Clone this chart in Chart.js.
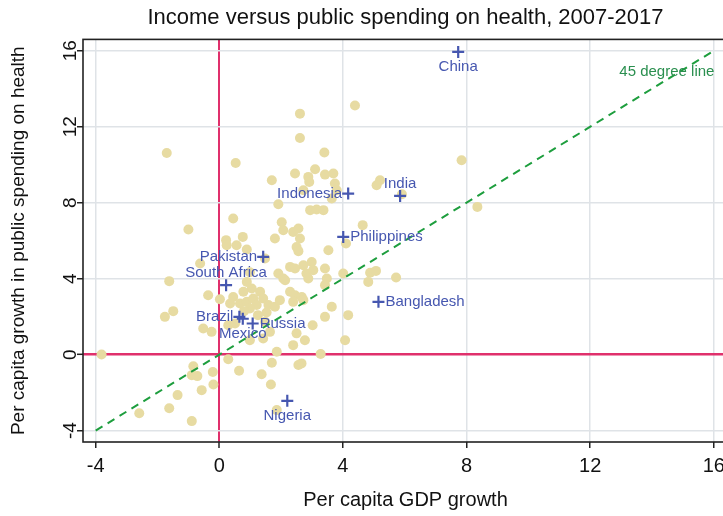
<!DOCTYPE html>
<html>
<head>
<meta charset="utf-8">
<script src="https://cdn.jsdelivr.net/npm/chart.js@4.4.1/dist/chart.umd.min.js"></script>
<style>
  html, body { margin: 0; padding: 0; background: #fff; overflow: hidden; }
  #wrap { width: 810px; height: 516px; }
</style>
</head>
<body>
<div id="wrap"><canvas id="chart" width="810" height="516"></canvas></div>
<script>
// countries picked out with a cross and a name
const countries = ['China', 'India', 'Indonesia', 'Philippines', 'Bangladesh', 'Pakistan',
                   'South Africa', 'Brazil', 'Russia', 'Mexico', 'Nigeria'];
const countryGdp    = [7.73, 5.85, 4.17, 4.01, 5.15, 1.42, 0.22, 0.65, 1.08, 0.76, 2.20];
const countryHealth = [15.94, 8.36, 8.48, 6.20, 2.78, 5.15, 3.66, 1.99, 1.64, 1.89, -2.43];

// all the other countries
const otherGdp = [
  -1.70, 0.53, 1.70, 2.61, 2.61, 4.39, 3.40, 7.84, 8.35, 2.45,
  3.10, 3.42, 3.69, 2.88, 2.91, 3.74, 3.80, 2.72, 3.64, 5.20,
  5.09, 2.94, 3.15, 3.37, 1.91, 2.02, 2.07, 2.56, 2.61, 2.50,
  2.56, 4.64, 4.10, 3.53, 0.45, -1.00, 0.22, 0.24, 0.56, 0.76,
  0.89, 1.80, 2.39, 1.48, -0.62, -1.62, 1.91, 2.07, 2.29, 2.45,
  2.72, 2.99, 3.04, 2.82, 3.42, 3.48, 3.42, 4.01, 4.88, 5.07,
  4.82, 5.72, 2.13, 2.88, 0.89, 1.05, 0.78, 1.32, -0.36, 0.02,
  0.45, 0.35, 0.67, 0.89, 1.10, 1.21, 0.99, 1.42, 1.59, 1.53,
  1.80, 1.96, 2.29, 2.45, 2.67, 2.72, 2.39, 3.64, 3.42, 4.17,
  3.02, 2.50, 2.77, 2.39, 4.07, 3.28, 2.66, -1.49, -1.76, -0.52,
  -0.25, 0.29, 0.51, 1.48, 1.64, 1.42, 0.99, 1.86, -3.81, 0.29,
  0.64, 1.37, 1.70, 1.67, 1.86, 2.56, -2.59, -1.62, -1.35, -0.89,
  -0.84, -0.89, -0.71, -0.57, -0.21, -0.19, 1.25, 0.80, 0.99, 5.91
];
const otherHealth = [
  10.62, 10.09, 9.18, 12.69, 11.41, 13.12, 10.64, 10.24, 7.78, 9.54,
  9.76, 9.48, 9.54, 9.36, 9.09, 9.01, 8.66, 8.66, 8.22, 9.18,
  8.92, 7.61, 7.64, 7.61, 7.92, 6.97, 6.55, 6.64, 6.12, 5.67,
  5.45, 6.82, 5.85, 5.50, 7.17, 6.59, 6.03, 5.76, 5.76, 6.20,
  5.54, 6.12, 6.46, 5.06, 4.80, 3.87, 4.27, 4.01, 4.62, 4.54,
  4.71, 4.88, 4.45, 4.27, 4.54, 4.01, 3.66, 4.27, 4.31, 4.41,
  3.83, 4.06, 3.92, 4.01, 3.83, 3.48, 3.31, 3.31, 3.13, 2.92,
  3.04, 2.69, 2.69, 2.78, 2.96, 2.61, 2.43, 2.96, 2.61, 2.22,
  2.52, 2.87, 3.31, 3.13, 3.04, 2.87, 2.78, 2.52, 1.99, 2.08,
  1.55, 1.12, 0.76, 0.50, 0.76, 0.03, -0.46, 2.29, 1.99, 1.38,
  1.20, 1.55, 1.64, 1.73, 1.20, 0.85, 0.76, 0.15, 0.01, -0.24,
  -0.85, -1.03, -0.43, -1.57, -2.92, -0.55, -3.09, -2.82, -2.13, -3.50,
  -0.61, -1.08, -1.13, -1.87, -0.91, -1.57, 2.08, 2.29, 4.34, 8.45
];

const xTicks = [-4, 0, 4, 8, 12, 16];
const yTicks = [-4, 0, 4, 8, 12, 16];
const diagonal = [-4, 16];

// where each name sits next to its cross
const labelSide = {
  'China': 'below', 'India': 'above', 'Indonesia': 'left', 'Philippines': 'right',
  'Bangladesh': 'right', 'Pakistan': 'left', 'South Africa': 'above', 'Brazil': 'left',
  'Russia': 'right', 'Mexico': 'below', 'Nigeria': 'below'
};

const FONT = "'Liberation Sans', Arial, sans-serif";
const BLUE = '#4657b0';

const countryLabels = {
  id: 'countryLabels',
  afterDatasetsDraw(chart) {
    const ctx = chart.ctx, xs = chart.scales.x, ys = chart.scales.y;
    ctx.save();
    ctx.font = '15px ' + FONT;
    ctx.fillStyle = BLUE;
    ctx.textBaseline = 'middle';
    countries.forEach((name, i) => {
      const px = xs.getPixelForValue(countryGdp[i]);
      const py = ys.getPixelForValue(countryHealth[i]);
      const side = labelSide[name];
      if (side === 'left') { ctx.textAlign = 'right'; ctx.fillText(name, px - 6, py); }
      else if (side === 'right') { ctx.textAlign = 'left'; ctx.fillText(name, px + 7, py); }
      else if (side === 'above') { ctx.textAlign = 'center'; ctx.fillText(name, px, py - 12); }
      else { ctx.textAlign = 'center'; ctx.fillText(name, px, py + 15); }
    });
    // label of the diagonal
    ctx.fillStyle = '#2a8f4f';
    ctx.textAlign = 'right';
    ctx.fillText('45 degree line', xs.getPixelForValue(16.02), ys.getPixelForValue(14.9));
    ctx.restore();
  }
};

const frame = {
  id: 'frame',
  beforeDatasetsDraw(chart) {
    const a = chart.chartArea, ctx = chart.ctx;
    ctx.save();
    ctx.strokeStyle = '#222';
    ctx.lineWidth = 1.6;
    ctx.strokeRect(a.left, a.top, a.right - a.left, a.bottom - a.top);
    ctx.restore();
  }
};

new Chart(document.getElementById('chart'), {
  type: 'scatter',
  data: {
    datasets: [
      {
        label: 'Selected countries',
        data: countries.map((c, i) => ({ x: countryGdp[i], y: countryHealth[i] })),
        pointStyle: 'cross',
        pointRadius: 6,
        borderColor: BLUE,
        borderWidth: 2.2
      },
      {
        label: '45 degree line',
        type: 'line',
        data: diagonal.map(v => ({ x: v, y: v })),
        borderColor: '#1e9e3e',
        borderWidth: 2,
        borderDash: [8, 6],
        pointRadius: 0,
        fill: false
      },
      {
        label: 'Other countries',
        data: otherGdp.map((g, i) => ({ x: g, y: otherHealth[i] })),
        pointRadius: 5,
        backgroundColor: '#e7dba2',
        borderWidth: 0
      }
    ]
  },
  options: {
    responsive: false,
    animation: false,
    layout: { padding: { right: 82 } },
    plugins: {
      legend: { display: false },
      tooltip: { enabled: false },
      title: {
        display: true,
        fullSize: false,
        text: 'Income versus public spending on health, 2007-2017',
        color: '#111',
        font: { family: FONT, size: 22, weight: 'normal' },
        padding: { top: 5, bottom: 8 }
      }
    },
    scales: {
      x: {
        type: 'linear',
        min: -4.41,
        max: 16.46,
        afterFit(scale) { scale.height = 74; },
        afterBuildTicks(scale) { scale.ticks = xTicks.map(v => ({ value: v })); },
        border: { display: false },
        grid: {
          color: c => c.tick && c.tick.value === 0 ? '#e0306c' : '#dfe3e7',
          lineWidth: c => c.tick && c.tick.value === 0 ? 2 : 1.5,
          tickColor: '#222',
          tickWidth: 1.5,
          tickLength: 6
        },
        ticks: {
          color: '#111',
          padding: 6,
          font: { family: FONT, size: 20 }
        },
        title: {
          display: true,
          text: 'Per capita GDP growth',
          color: '#111',
          font: { family: FONT, size: 20 },
          padding: { top: 0, bottom: 4 }
        }
      },
      y: {
        type: 'linear',
        min: -4.6,
        max: 16.6,
        afterFit(scale) { scale.width = 83; },
        afterBuildTicks(scale) { scale.ticks = yTicks.map(v => ({ value: v })); },
        border: { display: false },
        grid: {
          color: c => c.tick && c.tick.value === 0 ? '#e0306c' : '#dfe3e7',
          lineWidth: c => c.tick && c.tick.value === 0 ? 2.6 : 1.5,
          tickColor: '#222',
          tickWidth: 1.5,
          tickLength: 6
        },
        ticks: {
          color: '#111',
          padding: -4,
          minRotation: 90,
          maxRotation: 90,
          crossAlign: 'center',
          font: { family: FONT, size: 19 }
        },
        title: {
          display: true,
          text: 'Per capita growth in public spending on health',
          color: '#111',
          font: { family: FONT, size: 19 },
          padding: { top: 7, bottom: 0 }
        }
      }
    }
  },
  plugins: [frame, countryLabels]
});
</script>
</body>
</html>
